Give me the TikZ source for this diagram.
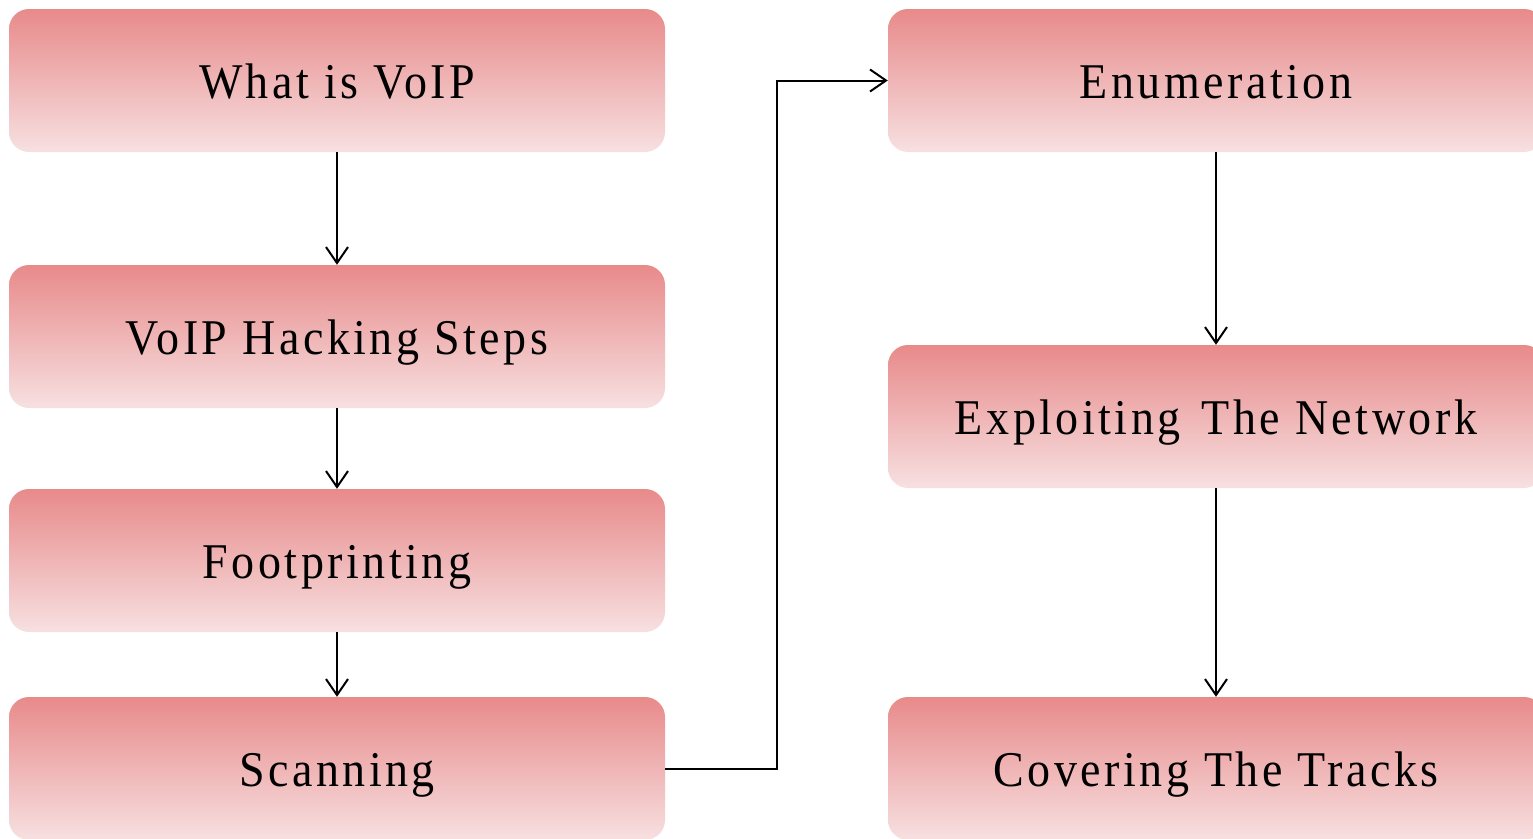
\documentclass[tikz,border=0pt]{standalone}
\usepackage{fontspec}
\setmainfont{Liberation Serif}[FakeStretch=0.92, LetterSpace=7]
\usetikzlibrary{arrows.meta}

\definecolor{boxtop}{HTML}{E88A8A}
\definecolor{boxbottom}{HTML}{F7E0E1}

\tikzset{
  stagebox/.style={rectangle, rounded corners=20pt, inner sep=0pt,
    minimum width=656pt, minimum height=143pt,
    text height=35pt, text depth=0pt,
    top color=boxtop, bottom color=boxbottom, draw=none,
    font=\fontsize{50}{60}\selectfont},
  flow/.style={draw=black, line width=2pt,
    -{Straight Barb[length=16pt, width=22pt, line width=2pt]}}
}

\begin{document}
\begin{tikzpicture}[x=1pt, y=-1pt]
  \clip (0,0) rectangle (1533,838);

  % left column
  \node[stagebox] (voip)  at (337,80.5)  {What is VoIP};
  \node[stagebox] (steps) at (337,336.5) {VoIP Hacking Steps};
  \node[stagebox] (foot)  at (337,560.5) {Footprinting};
  \node[stagebox] (scan)  at (337,768.5) {Scanning};

  % right column
  \node[stagebox] (enum)  at (1216,80.5)  {Enumeration};
  \node[stagebox] (expl)  at (1216,416.5) {Exploiting\hspace{6pt} The Network};
  \node[stagebox] (cover) at (1216,768.5) {Covering The Tracks};

  % connectors
  \draw[flow] (voip.south)  -- (steps.north);
  \draw[flow] (steps.south) -- (foot.north);
  \draw[flow] (foot.south)  -- (scan.north);
  \coordinate (bendlow)  at (777,768.5);
  \coordinate (bendhigh) at (777,80.5);
  \draw[flow] (scan.east) -- (bendlow) -- (bendhigh) -- (enum.west);
  \draw[flow] (enum.south) -- (expl.north);
  \draw[flow] (expl.south) -- (cover.north);
\end{tikzpicture}
\end{document}
